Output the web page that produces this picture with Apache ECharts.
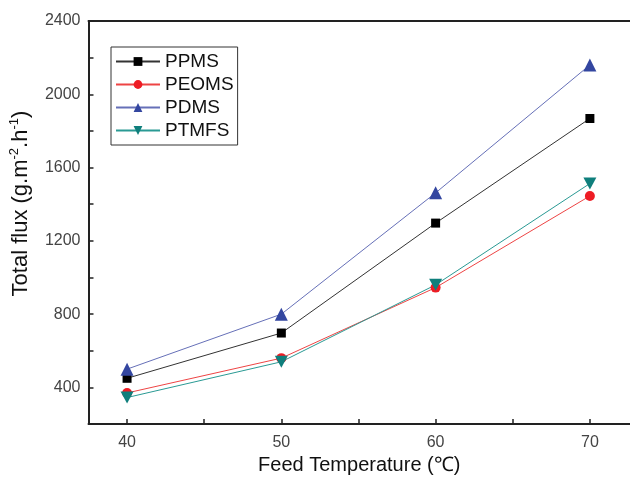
<!DOCTYPE html>
<html><head><meta charset="utf-8">
<script src="https://cdn.jsdelivr.net/npm/echarts@6/dist/echarts.min.js"></script>
<style>html,body{margin:0;padding:0;background:#fff}#c{width:630px;height:480px}</style>
</head><body><div id="c"></div>
<script>
var temps = [40, 50, 60, 70];
var ppms = [450, 697, 1297, 1868];
var peoms = [370, 560, 945, 1445];
var pdms = [500, 800, 1462, 2160];
var ptmfs = [345, 540, 960, 1513];
var xLabels = [40, 50, 60, 70];
var xTicks = [40, 45, 50, 55, 60, 65, 70];
var yLabels = [400, 800, 1200, 1600, 2000, 2400];
var yTicks = [400, 600, 800, 1000, 1200, 1400, 1600, 1800, 2000, 2200, 2400];

function pts(arr){ return temps.map(function(t,i){ return [t, arr[i]]; }); }
var downTri = 'path://M0,0 L10,0 L5,9 Z';
var font = 'Liberation Sans, Arial, sans-serif';
var plain = function(v){ return String(v); };

var chart = echarts.init(document.getElementById('c'));
chart.setOption({
  animation: false,
  backgroundColor: '#fff',
  grid: { left: 88, right: 0, top: 21, bottom: 55 },
  legend: {
    orient: 'vertical', left: 111, top: 47,
    borderColor: '#333', borderWidth: 1, padding: [5, 4, 5, 4],
    itemWidth: 44, itemHeight: 11, itemGap: 4,
    textStyle: { fontFamily: font, fontSize: 19, color: '#111' },
    data: ['PPMS', 'PEOMS', 'PDMS', 'PTMFS']
  },
  xAxis: [{
    type: 'value', min: 37.5, max: 72.6,
    name: 'Feed Temperature (\u2103)', nameLocation: 'middle', nameGap: 30,
    nameTextStyle: { fontFamily: font, fontSize: 20, color: '#111' },
    axisLine: { show: true, lineStyle: { color: '#222', width: 2 } },
    axisTick: { show: true, inside: true, length: 5, lineStyle: { color: '#222', width: 1.5 }, customValues: xTicks },
    axisLabel: { margin: 10, fontFamily: font, fontSize: 16, color: '#444', customValues: xLabels, formatter: plain },
    splitLine: { show: false }
  }, {
    type: 'value', position: 'top', min: 37.5, max: 72.6,
    axisLine: { show: true, lineStyle: { color: '#222', width: 2 } },
    axisTick: { show: false }, axisLabel: { show: false }, splitLine: { show: false }
  }],
  yAxis: {
    type: 'value', min: 200, max: 2400,
    name: 'Total flux (g.m{s|-2}.h{s|-1})', nameLocation: 'middle', nameGap: 44, nameRotate: 90,
    nameTextStyle: { fontFamily: font, fontSize: 22, color: '#111', lineHeight: 26, padding: [0, 0, 0, 38],
      rich: { s: { fontFamily: font, fontSize: 13, color: '#111', verticalAlign: 'top', lineHeight: 26 } } },
    axisLine: { show: true, lineStyle: { color: '#222', width: 2 } },
    axisTick: { show: true, inside: true, length: 5, lineStyle: { color: '#222', width: 1.5 }, customValues: yTicks },
    axisLabel: { margin: 8, fontFamily: font, fontSize: 16, color: '#444', customValues: yLabels, formatter: plain },
    splitLine: { show: false }
  },
  series: [
    { name: 'PPMS', type: 'line', data: pts(ppms), symbol: 'rect', symbolSize: 9,
      itemStyle: { color: '#000' }, lineStyle: { color: '#333', width: 1 } },
    { name: 'PEOMS', type: 'line', data: pts(peoms), symbol: 'circle', symbolSize: 10,
      itemStyle: { color: '#ee1c24' }, lineStyle: { color: '#ee4444', width: 1 } },
    { name: 'PDMS', type: 'line', data: pts(pdms), symbol: 'triangle', symbolSize: 13,
      itemStyle: { color: '#3346a0' }, lineStyle: { color: '#6670b8', width: 1 } },
    { name: 'PTMFS', type: 'line', data: pts(ptmfs), symbol: downTri, symbolSize: [13, 12],
      itemStyle: { color: '#0f7f7c' }, lineStyle: { color: '#2a9a94', width: 1 } }
  ]
});
</script></body></html>
